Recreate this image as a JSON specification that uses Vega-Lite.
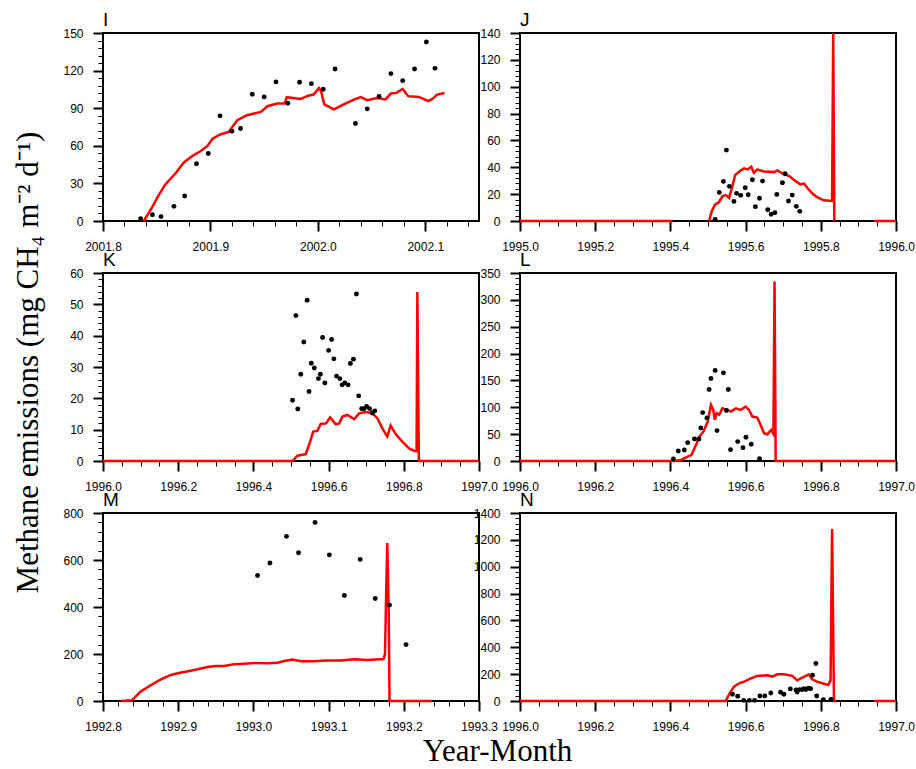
{
  "$schema": "https://vega.github.io/schema/vega-lite/v6.json",
  "description": "Six panels of modelled (red line) and observed (black dots) methane emissions.",
  "padding": {"left": 12, "top": 10, "right": 5, "bottom": 5},
  "title": {
    "text": "Methane emissions (mg CH₄ m⁻² d⁻¹)",
    "orient": "left",
    "anchor": "middle",
    "frame": "bounds",
    "font": "Liberation Serif",
    "fontSize": 31,
    "fontWeight": "normal",
    "color": "black",
    "baseline": "bottom",
    "offset": -14,
    "dx": 26
  },
  "columns": 2,
  "spacing": {"row": 52, "column": 41},
  "bounds": "flush",
  "datasets": {
    "I_mod": [
      {"t": 2001.838, "v": 0}, {"t": 2001.845, "v": 9.8}, {"t": 2001.851, "v": 19.4}, {"t": 2001.858, "v": 29.2},
      {"t": 2001.868, "v": 38.5}, {"t": 2001.875, "v": 46.5}, {"t": 2001.883, "v": 51.8}, {"t": 2001.891, "v": 55.8},
      {"t": 2001.897, "v": 59.7}, {"t": 2001.902, "v": 65.6}, {"t": 2001.909, "v": 69}, {"t": 2001.917, "v": 71},
      {"t": 2001.925, "v": 80.4}, {"t": 2001.934, "v": 84.4}, {"t": 2001.947, "v": 87}, {"t": 2001.953, "v": 91.6},
      {"t": 2001.962, "v": 93.7}, {"t": 2001.969, "v": 93.7}, {"t": 2001.971, "v": 98.8}, {"t": 2001.984, "v": 97.4},
      {"t": 2001.991, "v": 100}, {"t": 2001.996, "v": 100.9}, {"t": 2002.001, "v": 106}, {"t": 2002.003, "v": 103.5},
      {"t": 2002.006, "v": 93}, {"t": 2002.015, "v": 89}, {"t": 2002.024, "v": 93}, {"t": 2002.034, "v": 97},
      {"t": 2002.040, "v": 98.8}, {"t": 2002.046, "v": 96.4}, {"t": 2002.055, "v": 98.2}, {"t": 2002.063, "v": 97},
      {"t": 2002.068, "v": 101.7}, {"t": 2002.073, "v": 102.2}, {"t": 2002.079, "v": 105.4}, {"t": 2002.084, "v": 99.6},
      {"t": 2002.094, "v": 99}, {"t": 2002.103, "v": 95.6}, {"t": 2002.107, "v": 97.7}, {"t": 2002.111, "v": 100.9},
      {"t": 2002.118, "v": 102.2}
    ],
    "I_obs": [
      {"t": 2001.835, "v": 1.9}, {"t": 2001.846, "v": 5}, {"t": 2001.854, "v": 3.5}, {"t": 2001.866, "v": 11.7},
      {"t": 2001.876, "v": 20}, {"t": 2001.887, "v": 45.7}, {"t": 2001.898, "v": 53.9}, {"t": 2001.909, "v": 83.9},
      {"t": 2001.920, "v": 71.7}, {"t": 2001.928, "v": 73.8}, {"t": 2001.939, "v": 101.1}, {"t": 2001.950, "v": 99},
      {"t": 2001.961, "v": 111}, {"t": 2001.972, "v": 94}, {"t": 2001.983, "v": 110.7}, {"t": 2001.994, "v": 109.6},
      {"t": 2002.005, "v": 105.1}, {"t": 2002.016, "v": 121.3}, {"t": 2002.035, "v": 77.8}, {"t": 2002.046, "v": 89.5},
      {"t": 2002.057, "v": 99.3}, {"t": 2002.068, "v": 117.6}, {"t": 2002.079, "v": 112}, {"t": 2002.090, "v": 121.3},
      {"t": 2002.101, "v": 142.8}, {"t": 2002.109, "v": 121.8}
    ],
    "J_mod": [
      {"t": 1995.0, "v": 0, "seg": "a"}, {"t": 1995.406, "v": 0, "seg": "a"},
      {"t": 1995.503, "v": 0, "seg": "b"}, {"t": 1995.510, "v": 7.4, "seg": "b"}, {"t": 1995.519, "v": 12.4, "seg": "b"},
      {"t": 1995.528, "v": 13.6, "seg": "b"}, {"t": 1995.539, "v": 18.6, "seg": "b"}, {"t": 1995.547, "v": 19.3, "seg": "b"},
      {"t": 1995.556, "v": 17.3, "seg": "b"}, {"t": 1995.565, "v": 26, "seg": "b"}, {"t": 1995.572, "v": 34.2, "seg": "b"},
      {"t": 1995.585, "v": 37.2, "seg": "b"}, {"t": 1995.596, "v": 39.2, "seg": "b"}, {"t": 1995.605, "v": 38.4, "seg": "b"},
      {"t": 1995.615, "v": 40.4, "seg": "b"}, {"t": 1995.622, "v": 35.9, "seg": "b"}, {"t": 1995.631, "v": 38.4, "seg": "b"},
      {"t": 1995.649, "v": 36.9, "seg": "b"}, {"t": 1995.676, "v": 36.4, "seg": "b"}, {"t": 1995.685, "v": 37.7, "seg": "b"},
      {"t": 1995.698, "v": 35.4, "seg": "b"}, {"t": 1995.716, "v": 33.5, "seg": "b"}, {"t": 1995.733, "v": 29.7, "seg": "b"},
      {"t": 1995.746, "v": 27.3, "seg": "b"}, {"t": 1995.755, "v": 28, "seg": "b"}, {"t": 1995.764, "v": 24.8, "seg": "b"},
      {"t": 1995.777, "v": 20.6, "seg": "b"}, {"t": 1995.790, "v": 17.8, "seg": "b"}, {"t": 1995.808, "v": 15.4, "seg": "b"},
      {"t": 1995.830, "v": 14.9, "seg": "b"}, {"t": 1995.833, "v": 140, "seg": "b"}, {"t": 1995.836, "v": 0, "seg": "b"},
      {"t": 1995.941, "v": 0, "seg": "c"}, {"t": 1996.0, "v": 0, "seg": "c"}
    ],
    "J_obs": [
      {"t": 1995.519, "v": 1.2}, {"t": 1995.530, "v": 21.3}, {"t": 1995.541, "v": 29.5}, {"t": 1995.549, "v": 52.8},
      {"t": 1995.557, "v": 25.8}, {"t": 1995.569, "v": 14.6}, {"t": 1995.576, "v": 20.6}, {"t": 1995.587, "v": 19.1},
      {"t": 1995.599, "v": 24.8}, {"t": 1995.607, "v": 19.6}, {"t": 1995.618, "v": 30.7}, {"t": 1995.626, "v": 10.7},
      {"t": 1995.637, "v": 16.9}, {"t": 1995.645, "v": 29.7}, {"t": 1995.659, "v": 8.4}, {"t": 1995.668, "v": 5},
      {"t": 1995.678, "v": 6.2}, {"t": 1995.683, "v": 19.8}, {"t": 1995.698, "v": 28.5}, {"t": 1995.705, "v": 35.2},
      {"t": 1995.714, "v": 14.9}, {"t": 1995.724, "v": 19.3}, {"t": 1995.735, "v": 10.9}, {"t": 1995.744, "v": 7.2}
    ],
    "K_mod": [
      {"t": 1996.0, "v": 0}, {"t": 1996.504, "v": 0}, {"t": 1996.517, "v": 1.7}, {"t": 1996.539, "v": 2.2},
      {"t": 1996.548, "v": 5.1}, {"t": 1996.559, "v": 9.4}, {"t": 1996.570, "v": 9.6}, {"t": 1996.579, "v": 11.8},
      {"t": 1996.593, "v": 12}, {"t": 1996.604, "v": 13.9}, {"t": 1996.619, "v": 11.7}, {"t": 1996.628, "v": 12},
      {"t": 1996.637, "v": 14.2}, {"t": 1996.650, "v": 14.7}, {"t": 1996.668, "v": 13.4}, {"t": 1996.681, "v": 15.2},
      {"t": 1996.699, "v": 15.6}, {"t": 1996.717, "v": 15.2}, {"t": 1996.730, "v": 13.6}, {"t": 1996.743, "v": 10.4},
      {"t": 1996.756, "v": 7.8}, {"t": 1996.765, "v": 11.3}, {"t": 1996.779, "v": 8.5}, {"t": 1996.796, "v": 6.2},
      {"t": 1996.814, "v": 4}, {"t": 1996.827, "v": 3.3}, {"t": 1996.834, "v": 3.2}, {"t": 1996.836, "v": 53.9},
      {"t": 1996.840, "v": 0}, {"t": 1997.0, "v": 0}
    ],
    "K_obs": [
      {"t": 1996.504, "v": 19.4}, {"t": 1996.513, "v": 46.4}, {"t": 1996.518, "v": 16.6}, {"t": 1996.526, "v": 27.7},
      {"t": 1996.534, "v": 38}, {"t": 1996.543, "v": 51.3}, {"t": 1996.548, "v": 22.2}, {"t": 1996.554, "v": 31.2},
      {"t": 1996.562, "v": 29.7}, {"t": 1996.573, "v": 26.3}, {"t": 1996.578, "v": 27.7}, {"t": 1996.584, "v": 39.4},
      {"t": 1996.590, "v": 24.9}, {"t": 1996.600, "v": 35.3}, {"t": 1996.608, "v": 38.8}, {"t": 1996.614, "v": 32.6},
      {"t": 1996.621, "v": 27.1}, {"t": 1996.630, "v": 26.3}, {"t": 1996.636, "v": 24.3}, {"t": 1996.643, "v": 24.9},
      {"t": 1996.652, "v": 24.3}, {"t": 1996.658, "v": 31.1}, {"t": 1996.666, "v": 32.5}, {"t": 1996.674, "v": 53.3},
      {"t": 1996.680, "v": 20.8}, {"t": 1996.688, "v": 16.7}, {"t": 1996.694, "v": 16.7}, {"t": 1996.701, "v": 17.4},
      {"t": 1996.709, "v": 16.7}, {"t": 1996.716, "v": 15.3}, {"t": 1996.723, "v": 16}
    ],
    "L_mod": [
      {"t": 1996.0, "v": 0}, {"t": 1996.41, "v": 0}, {"t": 1996.428, "v": 1.9}, {"t": 1996.446, "v": 8},
      {"t": 1996.456, "v": 11}, {"t": 1996.468, "v": 30}, {"t": 1996.477, "v": 45}, {"t": 1996.488, "v": 55},
      {"t": 1996.499, "v": 73}, {"t": 1996.508, "v": 104.4}, {"t": 1996.514, "v": 95}, {"t": 1996.518, "v": 76.5},
      {"t": 1996.523, "v": 89}, {"t": 1996.530, "v": 86}, {"t": 1996.538, "v": 98}, {"t": 1996.552, "v": 95},
      {"t": 1996.561, "v": 92}, {"t": 1996.574, "v": 98}, {"t": 1996.587, "v": 95}, {"t": 1996.600, "v": 101.3},
      {"t": 1996.609, "v": 95}, {"t": 1996.618, "v": 82.7}, {"t": 1996.631, "v": 80.8}, {"t": 1996.640, "v": 67},
      {"t": 1996.649, "v": 51.6}, {"t": 1996.658, "v": 49.7}, {"t": 1996.668, "v": 57.8}, {"t": 1996.674, "v": 50.3},
      {"t": 1996.677, "v": 334}, {"t": 1996.680, "v": 0}, {"t": 1997.0, "v": 0}
    ],
    "L_obs": [
      {"t": 1996.408, "v": 3.7}, {"t": 1996.421, "v": 18.6}, {"t": 1996.437, "v": 20.5}, {"t": 1996.446, "v": 34.2},
      {"t": 1996.464, "v": 41}, {"t": 1996.476, "v": 41}, {"t": 1996.481, "v": 61.5}, {"t": 1996.486, "v": 90.1},
      {"t": 1996.497, "v": 80.2}, {"t": 1996.503, "v": 133}, {"t": 1996.508, "v": 153.5}, {"t": 1996.519, "v": 168.5},
      {"t": 1996.524, "v": 56.6}, {"t": 1996.541, "v": 164.1}, {"t": 1996.549, "v": 93.9}, {"t": 1996.554, "v": 133},
      {"t": 1996.560, "v": 21.1}, {"t": 1996.579, "v": 36.1}, {"t": 1996.593, "v": 24.9}, {"t": 1996.601, "v": 44.1},
      {"t": 1996.615, "v": 31.1}, {"t": 1996.637, "v": 4.4}
    ],
    "M_mod": [
      {"t": 1992.824, "v": 0}, {"t": 1992.8385, "v": 3}, {"t": 1992.850, "v": 40}, {"t": 1992.864, "v": 68},
      {"t": 1992.877, "v": 92}, {"t": 1992.890, "v": 111}, {"t": 1992.904, "v": 121}, {"t": 1992.915, "v": 128},
      {"t": 1992.926, "v": 135}, {"t": 1992.939, "v": 145}, {"t": 1992.950, "v": 149}, {"t": 1992.961, "v": 149},
      {"t": 1992.974, "v": 156}, {"t": 1992.988, "v": 159}, {"t": 1993.001, "v": 162}, {"t": 1993.019, "v": 160.6},
      {"t": 1993.032, "v": 163}, {"t": 1993.041, "v": 170}, {"t": 1993.052, "v": 176}, {"t": 1993.063, "v": 169},
      {"t": 1993.081, "v": 169}, {"t": 1993.098, "v": 172}, {"t": 1993.116, "v": 172}, {"t": 1993.134, "v": 178},
      {"t": 1993.152, "v": 175}, {"t": 1993.173, "v": 179}, {"t": 1993.175, "v": 199}, {"t": 1993.176, "v": 369},
      {"t": 1993.178, "v": 672}, {"t": 1993.180, "v": 369}, {"t": 1993.181, "v": 0}, {"t": 1993.237, "v": 0}
    ],
    "M_obs": [
      {"t": 1993.0055, "v": 534}, {"t": 1993.022, "v": 587}, {"t": 1993.044, "v": 700.6}, {"t": 1993.060, "v": 631},
      {"t": 1993.082, "v": 760}, {"t": 1993.101, "v": 622}, {"t": 1993.121, "v": 449}, {"t": 1993.142, "v": 602.5},
      {"t": 1993.162, "v": 436}, {"t": 1993.181, "v": 408}, {"t": 1993.203, "v": 240}
    ],
    "N_mod": [
      {"t": 1996.0, "v": 0, "seg": "a"}, {"t": 1996.547, "v": 0, "seg": "a"}, {"t": 1996.556, "v": 50, "seg": "a"},
      {"t": 1996.569, "v": 107, "seg": "a"}, {"t": 1996.583, "v": 132, "seg": "a"}, {"t": 1996.596, "v": 144, "seg": "a"},
      {"t": 1996.614, "v": 169, "seg": "a"}, {"t": 1996.631, "v": 187, "seg": "a"}, {"t": 1996.658, "v": 191, "seg": "a"},
      {"t": 1996.671, "v": 182, "seg": "a"}, {"t": 1996.684, "v": 199, "seg": "a"}, {"t": 1996.702, "v": 199, "seg": "a"},
      {"t": 1996.724, "v": 187, "seg": "a"}, {"t": 1996.737, "v": 154, "seg": "a"}, {"t": 1996.751, "v": 174, "seg": "a"},
      {"t": 1996.768, "v": 199, "seg": "a"}, {"t": 1996.777, "v": 162, "seg": "a"}, {"t": 1996.790, "v": 144, "seg": "a"},
      {"t": 1996.808, "v": 129, "seg": "a"}, {"t": 1996.820, "v": 119, "seg": "a"}, {"t": 1996.826, "v": 154, "seg": "a"},
      {"t": 1996.830, "v": 1281, "seg": "a"}, {"t": 1996.835, "v": 0, "seg": "a"}, {"t": 1996.84, "v": 0, "seg": "a"},
      {"t": 1996.941, "v": 0, "seg": "b"}, {"t": 1997.0, "v": 0, "seg": "b"}
    ],
    "N_obs": [
      {"t": 1996.565, "v": 50}, {"t": 1996.579, "v": 35}, {"t": 1996.595, "v": 5}, {"t": 1996.610, "v": 5},
      {"t": 1996.624, "v": 5}, {"t": 1996.638, "v": 37}, {"t": 1996.651, "v": 37}, {"t": 1996.667, "v": 60},
      {"t": 1996.693, "v": 65}, {"t": 1996.702, "v": 50}, {"t": 1996.719, "v": 90}, {"t": 1996.734, "v": 82},
      {"t": 1996.737, "v": 67}, {"t": 1996.743, "v": 85}, {"t": 1996.751, "v": 85}, {"t": 1996.755, "v": 92},
      {"t": 1996.760, "v": 85}, {"t": 1996.767, "v": 95}, {"t": 1996.773, "v": 92}, {"t": 1996.778, "v": 192},
      {"t": 1996.787, "v": 279}, {"t": 1996.789, "v": 37}, {"t": 1996.807, "v": 10}, {"t": 1996.827, "v": 12}
    ]
  },
  "concat": [
    {
      "title": "I",
      "width": 376,
      "height": 188,
      "encoding": {
        "x": {"field": "t", "type": "quantitative", "scale": {"domain": [2001.8, 2002.15], "nice": false, "zero": false},
          "axis": {"title": null,
            "values": [2001.8, 2001.82, 2001.84, 2001.86, 2001.88, 2001.9, 2001.92, 2001.94, 2001.96, 2001.98, 2002.0, 2002.02, 2002.04, 2002.06, 2002.08, 2002.1, 2002.12, 2002.14],
            "labelExpr": "abs(datum.value*10-round(datum.value*10))<0.001 ? format(datum.value, '.1f') : ''",
            "tickSize": {"condition": {"test": "abs(datum.value*10-round(datum.value*10))<0.001", "value": 10}, "value": 5},
            "tickWidth": {"condition": {"test": "abs(datum.value*10-round(datum.value*10))<0.001", "value": 2}, "value": 1}}},
        "y": {"field": "v", "type": "quantitative", "scale": {"domain": [0, 150], "nice": false},
          "axis": {"title": null,
            "values": [0, 6, 12, 18, 24, 30, 36, 42, 48, 54, 60, 66, 72, 78, 84, 90, 96, 102, 108, 114, 120, 126, 132, 138, 144, 150],
            "labelExpr": "datum.value % 30 == 0 ? format(datum.value, 'd') : ''",
            "tickSize": {"condition": {"test": "datum.value % 30 == 0", "value": 10}, "value": 5},
            "tickWidth": {"condition": {"test": "datum.value % 30 == 0", "value": 2}, "value": 1}}},
        "detail": {"field": "seg"}
      },
      "layer": [
        {"data": {"name": "I_mod"}, "mark": {"type": "line", "color": "#ff0000", "strokeWidth": 2.5}},
        {"data": {"name": "I_obs"}, "mark": {"type": "circle", "color": "black", "size": 24, "opacity": 1}}
      ]
    },
    {
      "title": "J",
      "width": 376,
      "height": 188,
      "encoding": {
        "x": {"field": "t", "type": "quantitative", "scale": {"domain": [1995.0, 1996.0], "nice": false, "zero": false},
          "axis": {"title": null,
            "values": [1995.0, 1995.05, 1995.1, 1995.15, 1995.2, 1995.25, 1995.3, 1995.35, 1995.4, 1995.45, 1995.5, 1995.55, 1995.6, 1995.65, 1995.7, 1995.75, 1995.8, 1995.85, 1995.9, 1995.95, 1996.0],
            "labelExpr": "abs(datum.value*5-round(datum.value*5))<0.001 ? format(datum.value, '.1f') : ''",
            "tickSize": {"condition": {"test": "abs(datum.value*5-round(datum.value*5))<0.001", "value": 10}, "value": 5},
            "tickWidth": {"condition": {"test": "abs(datum.value*5-round(datum.value*5))<0.001", "value": 2}, "value": 1}}},
        "y": {"field": "v", "type": "quantitative", "scale": {"domain": [0, 140], "nice": false},
          "axis": {"title": null,
            "values": [0, 4, 8, 12, 16, 20, 24, 28, 32, 36, 40, 44, 48, 52, 56, 60, 64, 68, 72, 76, 80, 84, 88, 92, 96, 100, 104, 108, 112, 116, 120, 124, 128, 132, 136, 140],
            "labelExpr": "datum.value % 20 == 0 ? format(datum.value, 'd') : ''",
            "tickSize": {"condition": {"test": "datum.value % 20 == 0", "value": 10}, "value": 5},
            "tickWidth": {"condition": {"test": "datum.value % 20 == 0", "value": 2}, "value": 1}}},
        "detail": {"field": "seg"}
      },
      "layer": [
        {"data": {"name": "J_mod"}, "mark": {"type": "line", "color": "#ff0000", "strokeWidth": 2.5}},
        {"data": {"name": "J_obs"}, "mark": {"type": "circle", "color": "black", "size": 24, "opacity": 1}}
      ]
    },
    {
      "title": "K",
      "width": 376,
      "height": 188,
      "encoding": {
        "x": {"field": "t", "type": "quantitative", "scale": {"domain": [1996.0, 1997.0], "nice": false, "zero": false},
          "axis": {"title": null,
            "values": [1996.0, 1996.05, 1996.1, 1996.15, 1996.2, 1996.25, 1996.3, 1996.35, 1996.4, 1996.45, 1996.5, 1996.55, 1996.6, 1996.65, 1996.7, 1996.75, 1996.8, 1996.85, 1996.9, 1996.95, 1997.0],
            "labelExpr": "abs(datum.value*5-round(datum.value*5))<0.001 ? format(datum.value, '.1f') : ''",
            "tickSize": {"condition": {"test": "abs(datum.value*5-round(datum.value*5))<0.001", "value": 10}, "value": 5},
            "tickWidth": {"condition": {"test": "abs(datum.value*5-round(datum.value*5))<0.001", "value": 2}, "value": 1}}},
        "y": {"field": "v", "type": "quantitative", "scale": {"domain": [0, 60], "nice": false},
          "axis": {"title": null,
            "values": [0, 2, 4, 6, 8, 10, 12, 14, 16, 18, 20, 22, 24, 26, 28, 30, 32, 34, 36, 38, 40, 42, 44, 46, 48, 50, 52, 54, 56, 58, 60],
            "labelExpr": "datum.value % 10 == 0 ? format(datum.value, 'd') : ''",
            "tickSize": {"condition": {"test": "datum.value % 10 == 0", "value": 10}, "value": 5},
            "tickWidth": {"condition": {"test": "datum.value % 10 == 0", "value": 2}, "value": 1}}},
        "detail": {"field": "seg"}
      },
      "layer": [
        {"data": {"name": "K_mod"}, "mark": {"type": "line", "color": "#ff0000", "strokeWidth": 2.5}},
        {"data": {"name": "K_obs"}, "mark": {"type": "circle", "color": "black", "size": 24, "opacity": 1}}
      ]
    },
    {
      "title": "L",
      "width": 376,
      "height": 188,
      "encoding": {
        "x": {"field": "t", "type": "quantitative", "scale": {"domain": [1996.0, 1997.0], "nice": false, "zero": false},
          "axis": {"title": null,
            "values": [1996.0, 1996.05, 1996.1, 1996.15, 1996.2, 1996.25, 1996.3, 1996.35, 1996.4, 1996.45, 1996.5, 1996.55, 1996.6, 1996.65, 1996.7, 1996.75, 1996.8, 1996.85, 1996.9, 1996.95, 1997.0],
            "labelExpr": "abs(datum.value*5-round(datum.value*5))<0.001 ? format(datum.value, '.1f') : ''",
            "tickSize": {"condition": {"test": "abs(datum.value*5-round(datum.value*5))<0.001", "value": 10}, "value": 5},
            "tickWidth": {"condition": {"test": "abs(datum.value*5-round(datum.value*5))<0.001", "value": 2}, "value": 1}}},
        "y": {"field": "v", "type": "quantitative", "scale": {"domain": [0, 350], "nice": false},
          "axis": {"title": null,
            "values": [0, 10, 20, 30, 40, 50, 60, 70, 80, 90, 100, 110, 120, 130, 140, 150, 160, 170, 180, 190, 200, 210, 220, 230, 240, 250, 260, 270, 280, 290, 300, 310, 320, 330, 340, 350],
            "labelExpr": "datum.value % 50 == 0 ? format(datum.value, 'd') : ''",
            "tickSize": {"condition": {"test": "datum.value % 50 == 0", "value": 10}, "value": 5},
            "tickWidth": {"condition": {"test": "datum.value % 50 == 0", "value": 2}, "value": 1}}},
        "detail": {"field": "seg"}
      },
      "layer": [
        {"data": {"name": "L_mod"}, "mark": {"type": "line", "color": "#ff0000", "strokeWidth": 2.5}},
        {"data": {"name": "L_obs"}, "mark": {"type": "circle", "color": "black", "size": 24, "opacity": 1}}
      ]
    },
    {
      "title": "M",
      "width": 376,
      "height": 188,
      "encoding": {
        "x": {"field": "t", "type": "quantitative", "scale": {"domain": [1992.8, 1993.3], "nice": false, "zero": false},
          "axis": {"title": "Year-Month",
            "titleFont": "Liberation Serif", "titleFontSize": 31, "titleFontWeight": "normal",
            "titleX": 394, "titleY": 50, "titleAlign": "center", "titleBaseline": "middle",
            "values": [1992.8, 1992.82, 1992.84, 1992.86, 1992.88, 1992.9, 1992.92, 1992.94, 1992.96, 1992.98, 1993.0, 1993.02, 1993.04, 1993.06, 1993.08, 1993.1, 1993.12, 1993.14, 1993.16, 1993.18, 1993.2, 1993.22, 1993.24, 1993.26, 1993.28, 1993.3],
            "labelExpr": "abs(datum.value*10-round(datum.value*10))<0.001 ? format(datum.value, '.1f') : ''",
            "tickSize": {"condition": {"test": "abs(datum.value*10-round(datum.value*10))<0.001", "value": 10}, "value": 5},
            "tickWidth": {"condition": {"test": "abs(datum.value*10-round(datum.value*10))<0.001", "value": 2}, "value": 1}}},
        "y": {"field": "v", "type": "quantitative", "scale": {"domain": [0, 800], "nice": false},
          "axis": {"title": null,
            "values": [0, 40, 80, 120, 160, 200, 240, 280, 320, 360, 400, 440, 480, 520, 560, 600, 640, 680, 720, 760, 800],
            "labelExpr": "datum.value % 200 == 0 ? format(datum.value, 'd') : ''",
            "tickSize": {"condition": {"test": "datum.value % 200 == 0", "value": 10}, "value": 5},
            "tickWidth": {"condition": {"test": "datum.value % 200 == 0", "value": 2}, "value": 1}}},
        "detail": {"field": "seg"}
      },
      "layer": [
        {"data": {"name": "M_mod"}, "mark": {"type": "line", "color": "#ff0000", "strokeWidth": 2.5}},
        {"data": {"name": "M_obs"}, "mark": {"type": "circle", "color": "black", "size": 24, "opacity": 1}}
      ]
    },
    {
      "title": "N",
      "width": 376,
      "height": 188,
      "encoding": {
        "x": {"field": "t", "type": "quantitative", "scale": {"domain": [1996.0, 1997.0], "nice": false, "zero": false},
          "axis": {"title": null,
            "values": [1996.0, 1996.05, 1996.1, 1996.15, 1996.2, 1996.25, 1996.3, 1996.35, 1996.4, 1996.45, 1996.5, 1996.55, 1996.6, 1996.65, 1996.7, 1996.75, 1996.8, 1996.85, 1996.9, 1996.95, 1997.0],
            "labelExpr": "abs(datum.value*5-round(datum.value*5))<0.001 ? format(datum.value, '.1f') : ''",
            "tickSize": {"condition": {"test": "abs(datum.value*5-round(datum.value*5))<0.001", "value": 10}, "value": 5},
            "tickWidth": {"condition": {"test": "abs(datum.value*5-round(datum.value*5))<0.001", "value": 2}, "value": 1}}},
        "y": {"field": "v", "type": "quantitative", "scale": {"domain": [0, 1400], "nice": false},
          "axis": {"title": null,
            "values": [0, 40, 80, 120, 160, 200, 240, 280, 320, 360, 400, 440, 480, 520, 560, 600, 640, 680, 720, 760, 800, 840, 880, 920, 960, 1000, 1040, 1080, 1120, 1160, 1200, 1240, 1280, 1320, 1360, 1400],
            "labelExpr": "datum.value % 200 == 0 ? format(datum.value, 'd') : ''",
            "tickSize": {"condition": {"test": "datum.value % 200 == 0", "value": 10}, "value": 5},
            "tickWidth": {"condition": {"test": "datum.value % 200 == 0", "value": 2}, "value": 1}}},
        "detail": {"field": "seg"}
      },
      "layer": [
        {"data": {"name": "N_mod"}, "mark": {"type": "line", "color": "#ff0000", "strokeWidth": 2.5}},
        {"data": {"name": "N_obs"}, "mark": {"type": "circle", "color": "black", "size": 24, "opacity": 1}}
      ]
    }
  ],
  "config": {
    "view": {"stroke": "black", "strokeWidth": 2},
    "axis": {
      "grid": false,
      "domain": false,
      "labelFont": "Liberation Sans",
      "labelFontSize": 12,
      "labelColor": "black",
      "labelFlush": false,
      "labelOverlap": false,
      "labelBound": false,
      "labelPadding": 10,
      "tickColor": "black",
      "titleColor": "black"
    },
    "title": {
      "font": "Liberation Sans",
      "fontSize": 19,
      "fontWeight": "normal",
      "color": "black",
      "anchor": "start",
      "frame": "group",
      "baseline": "alphabetic",
      "offset": -3
    }
  }
}
